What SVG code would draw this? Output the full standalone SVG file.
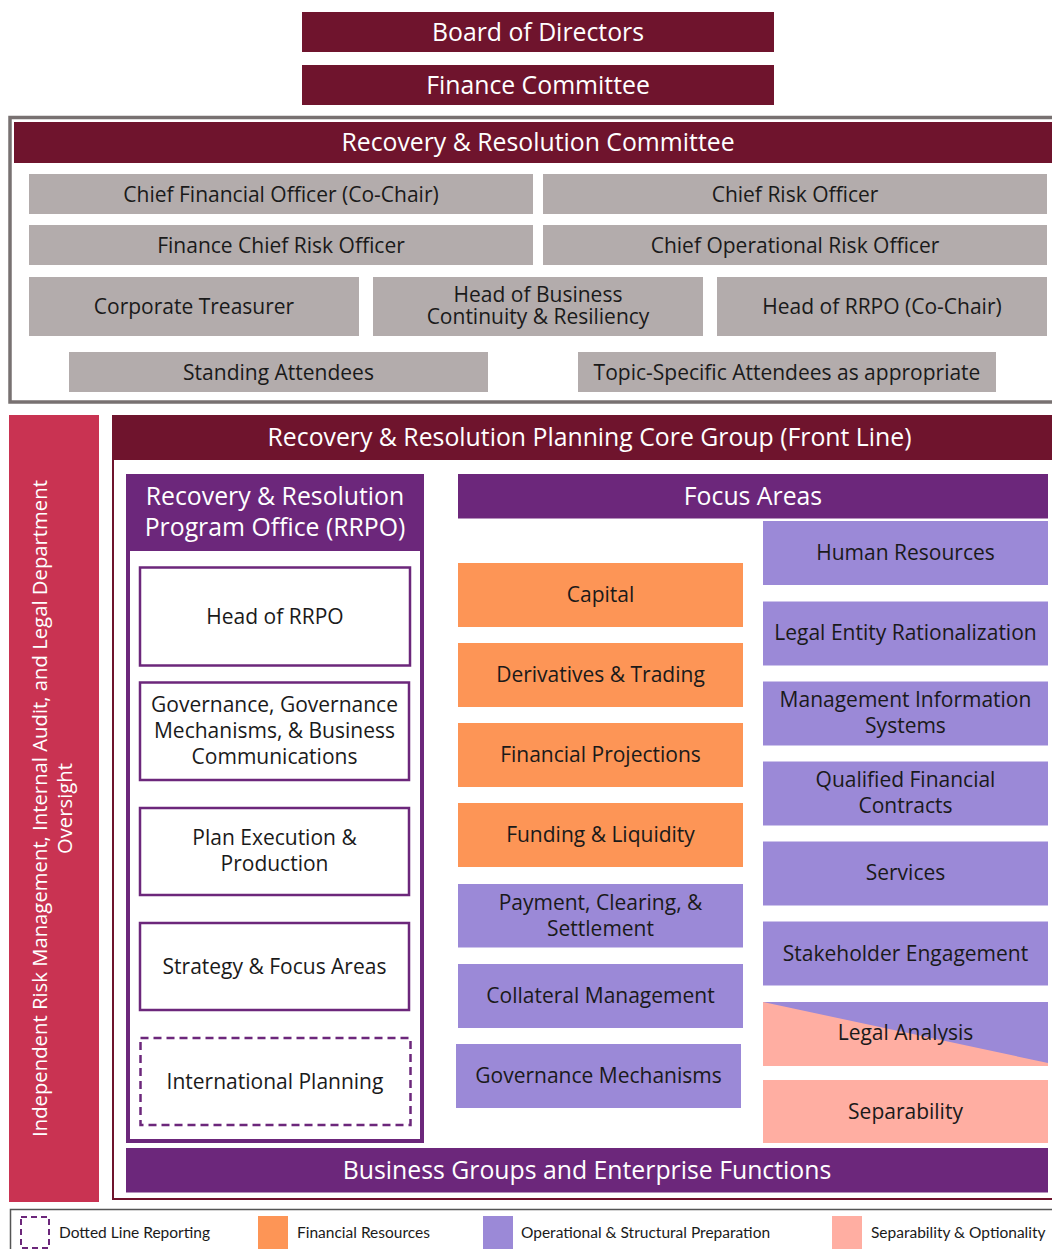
<svg xmlns="http://www.w3.org/2000/svg" width="1052" height="1249" viewBox="0 0 1052 1249">
<style>
text{font-family:"Open Sans","Noto Sans","Liberation Sans",sans-serif;text-anchor:middle}
.hd{fill:#6f142d}
.hdt{fill:#ffffff;font-size:24.8px}
.gb{fill:#b3acac}
.bt{fill:#1a1a1a;font-size:21px}
.pu{fill:#6c277b}
.ib{fill:#ffffff;stroke:#6c277b;stroke-width:2.5}
.or{fill:#fd9556}
.lv{fill:#9b89d7}
.sa{fill:#ffaea2}
.lg{font-family:Lato,"Open Sans",sans-serif;font-size:15.5px;fill:#1a1a1a;text-anchor:start}
</style>
<rect width="1052" height="1249" fill="#ffffff"/>

<g id="board"><rect class="hd" x="302" y="12" width="472" height="40"/><text class="hdt" x="538" y="41">Board of Directors</text></g>
<g id="finance-committee"><rect class="hd" x="302" y="65" width="472" height="40"/><text class="hdt" x="538" y="94">Finance Committee</text></g>

<g id="rrc">
<rect x="10" y="117.5" width="1060" height="284.5" fill="#ffffff" stroke="#787171" stroke-width="3.5"/>
<rect class="hd" x="14" y="122" width="1050" height="41"/>
<text class="hdt" x="538" y="151" font-size="25.3px">Recovery &amp; Resolution Committee</text>
</g>
<g id="cfo"><rect class="gb" x="29" y="174" width="504" height="40"/><text class="bt" x="281" y="201.5">Chief Financial Officer (Co-Chair)</text></g>
<g id="cro"><rect class="gb" x="543" y="174" width="504" height="40"/><text class="bt" x="795" y="201.5">Chief Risk Officer</text></g>
<g id="fcro"><rect class="gb" x="29" y="225" width="504" height="40"/><text class="bt" x="281" y="252.5">Finance Chief Risk Officer</text></g>
<g id="coro"><rect class="gb" x="543" y="225" width="504" height="40"/><text class="bt" x="795" y="252.5">Chief Operational Risk Officer</text></g>
<g id="treasurer"><rect class="gb" x="29" y="277" width="330" height="59"/><text class="bt" x="194" y="314">Corporate Treasurer</text></g>
<g id="hbcr"><rect class="gb" x="373" y="277" width="330" height="59"/><text class="bt"><tspan x="538" y="301.5">Head of Business</tspan><tspan x="538" y="324">Continuity &amp; Resiliency</tspan></text></g>
<g id="head-rrpo-cochair"><rect class="gb" x="717" y="277" width="330" height="59"/><text class="bt" x="882" y="314">Head of RRPO (Co-Chair)</text></g>
<g id="standing"><rect class="gb" x="69" y="352" width="419" height="40"/><text class="bt" x="278.5" y="379.5">Standing Attendees</text></g>
<g id="topic"><rect class="gb" x="578" y="352" width="418" height="40"/><text class="bt" x="787" y="379.5">Topic-Specific Attendees as appropriate</text></g>

<g id="oversight">
<rect x="9" y="415" width="90" height="787" fill="#c93352"/>
<text transform="translate(47,808.5) rotate(-90)" fill="#ffffff" font-size="20.3px"><tspan x="0" y="0">Independent Risk Management, Internal Audit, and Legal Department</tspan><tspan x="0" y="24.5">Oversight</tspan></text>
</g>

<g id="core-group">
<rect x="113" y="416" width="1000" height="783" fill="#ffffff" stroke="#6f142d" stroke-width="2"/>
<rect class="hd" x="112" y="415" width="950" height="45"/>
<text class="hdt" x="589.5" y="446">Recovery &amp; Resolution Planning Core Group (Front Line)</text>
</g>

<g id="rrpo">
<rect x="128" y="476" width="294" height="665" fill="#ffffff" stroke="#6c277b" stroke-width="4"/>
<rect class="pu" x="126" y="474" width="298" height="77"/>
<text class="hdt" font-size="25.8px"><tspan x="275" y="505">Recovery &amp; Resolution</tspan><tspan x="275" y="536">Program Office (RRPO)</tspan></text>
</g>
<g id="head-rrpo"><rect class="ib" x="140" y="567.5" width="270" height="98"/><text class="bt" x="275" y="623.5">Head of RRPO</text></g>
<g id="governance"><rect class="ib" x="140" y="682.5" width="269" height="97.5"/><text class="bt"><tspan x="274.5" y="711.5">Governance, Governance</tspan><tspan x="274.5" y="737.5">Mechanisms, &amp; Business</tspan><tspan x="274.5" y="763.5">Communications</tspan></text></g>
<g id="plan-exec"><rect class="ib" x="140" y="808" width="269" height="87"/><text class="bt"><tspan x="274.5" y="844.5">Plan Execution &amp;</tspan><tspan x="274.5" y="870.5">Production</tspan></text></g>
<g id="strategy"><rect class="ib" x="140" y="923" width="269" height="87"/><text class="bt" x="274.5" y="973.5">Strategy &amp; Focus Areas</text></g>
<g id="international"><rect x="140.5" y="1038" width="270" height="87" fill="#ffffff" stroke="#6c277b" stroke-width="2.5" stroke-dasharray="8 5"/><text class="bt" x="275" y="1088.5">International Planning</text></g>

<g id="focus-areas"><rect class="pu" x="458" y="474" width="590" height="44.5"/><text class="hdt" x="753" y="505">Focus Areas</text></g>

<g id="capital"><rect class="or" x="458" y="563" width="285" height="64"/><text class="bt" x="600.5" y="602">Capital</text></g>
<g id="derivatives"><rect class="or" x="458" y="643" width="285" height="64"/><text class="bt" x="600.5" y="682">Derivatives &amp; Trading</text></g>
<g id="projections"><rect class="or" x="458" y="723" width="285" height="64"/><text class="bt" x="600.5" y="762">Financial Projections</text></g>
<g id="funding"><rect class="or" x="458" y="803" width="285" height="64"/><text class="bt" x="600.5" y="842">Funding &amp; Liquidity</text></g>
<g id="payment"><rect class="lv" x="458" y="884" width="285" height="63.5"/><text class="bt"><tspan x="600.5" y="909.5">Payment, Clearing, &amp;</tspan><tspan x="600.5" y="935.5">Settlement</tspan></text></g>
<g id="collateral"><rect class="lv" x="458" y="964" width="285" height="64"/><text class="bt" x="600.5" y="1002.5">Collateral Management</text></g>
<g id="gov-mech"><rect class="lv" x="456" y="1044" width="285" height="64"/><text class="bt" x="598.5" y="1083">Governance Mechanisms</text></g>

<g id="hr"><rect class="lv" x="763" y="521" width="285" height="64"/><text class="bt" x="905.5" y="560">Human Resources</text></g>
<g id="ler"><rect class="lv" x="763" y="601.5" width="285" height="64"/><text class="bt" x="905.5" y="640">Legal Entity Rationalization</text></g>
<g id="mis"><rect class="lv" x="763" y="681.5" width="285" height="64"/><text class="bt"><tspan x="905.5" y="707">Management Information</tspan><tspan x="905.5" y="733">Systems</tspan></text></g>
<g id="qfc"><rect class="lv" x="763" y="761.5" width="285" height="64"/><text class="bt"><tspan x="905.5" y="787">Qualified Financial</tspan><tspan x="905.5" y="813">Contracts</tspan></text></g>
<g id="services"><rect class="lv" x="763" y="841.5" width="285" height="64"/><text class="bt" x="905.5" y="880">Services</text></g>
<g id="stakeholder"><rect class="lv" x="763" y="921.5" width="285" height="64"/><text class="bt" x="905.5" y="960.5">Stakeholder Engagement</text></g>
<g id="legal-analysis"><rect class="sa" x="763" y="1002" width="285" height="64"/><polygon class="lv" points="763,1002 1048,1002 1048,1063"/><text class="bt" x="905.5" y="1040">Legal Analysis</text></g>
<g id="separability"><rect class="sa" x="763" y="1080" width="285" height="63"/><text class="bt" x="905.5" y="1119">Separability</text></g>

<g id="business-groups"><rect class="pu" x="126" y="1148" width="922" height="44.5"/><text class="hdt" x="587" y="1179">Business Groups and Enterprise Functions</text></g>

<g id="connectors"></g>

<g id="legend">
<rect x="10.5" y="1209.5" width="1060" height="60" fill="none" stroke="#555555" stroke-width="1.5"/>
<rect x="21" y="1217" width="28" height="31" fill="none" stroke="#6c277b" stroke-width="2" stroke-dasharray="6 4"/>
<text class="lg" x="59" y="1237.5">Dotted Line Reporting</text>
<rect class="or" x="258" y="1216" width="30" height="33"/>
<text class="lg" x="297" y="1237.5">Financial Resources</text>
<rect class="lv" x="483" y="1216" width="30" height="33"/>
<text class="lg" x="521" y="1237.5">Operational &amp; Structural Preparation</text>
<rect class="sa" x="832" y="1216" width="30" height="33"/>
<text class="lg" x="871" y="1237.5">Separability &amp; Optionality</text>
</g>
</svg>
